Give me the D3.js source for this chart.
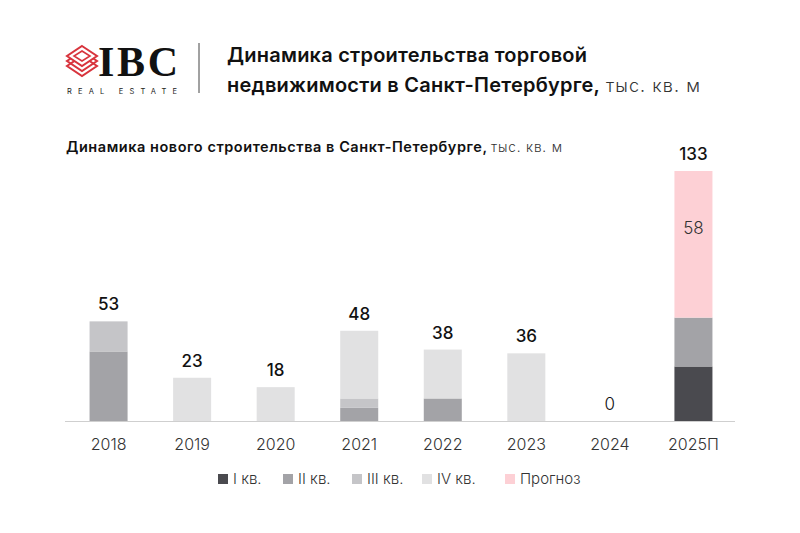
<!DOCTYPE html>
<html>
<head>
<meta charset="utf-8">
<script src="https://cdn.jsdelivr.net/npm/d3@7"></script>
<style>
  body { margin: 0; background: #fff; }
  svg { font-family: Inter, "Noto Sans", sans-serif; }
</style>
</head>
<body>
<div id="plot-container"></div>
<script>
// data
const years = ["2018", "2019", "2020", "2021", "2022", "2023", "2024", "2025П"];
const q1 = [0, 0, 0, 0, 0, 0, 0, 29];
const q2 = [37, 0, 0, 7, 12, 0, 0, 26];
const q3 = [16, 0, 0, 5, 0, 0, 0, 0];
const q4 = [0, 23, 18, 36, 26, 36, 0, 0];
const forecast = [0, 0, 0, 0, 0, 0, 0, 78];
const totals = [53, 23, 18, 48, 38, 36, 0, 133];
const forecastLabel = "58";
const seriesNames = ["I кв.", "II кв.", "III кв.", "IV кв.", "Прогноз"];
const seriesColors = ["#4a4a4f", "#a3a3a7", "#c5c5c8", "#e1e1e2", "#fdd0d5"];

const rows = years.map((y, i) => ({
    year: y, s0: q1[i], s1: q2[i], s2: q3[i], s3: q4[i], s4: forecast[i], total: totals[i]
}));
const keys = ["s0", "s1", "s2", "s3", "s4"];
const stacked = d3.stack().keys(keys)(rows);

const W = 800, H = 533;
const margin = { left: 67, right: 65, top: 171, bottom: 112 };
const baseY = H - margin.bottom;

const svg = d3.select("#plot-container")
    .append("svg")
    .attr("width", W)
    .attr("height", H);

// header: logo
const logo = svg.append("g").attr("transform", "translate(82,59)");
[10, 5, 0].forEach((dy, i) => {
    logo.append("path")
        .attr("d", `M0,${-13 + dy} L15,${-3 + dy} L0,${7 + dy} L-15,${-3 + dy} Z`)
        .attr("fill", i === 2 ? "#fff" : "none")
        .attr("stroke", "#d8343d")
        .attr("stroke-width", 2);
});
logo.append("path")
    .attr("d", "M0,-8 L8,-3 L0,2 L-8,-3 Z")
    .attr("fill", "none")
    .attr("stroke", "#d8343d")
    .attr("stroke-width", 1.6);

svg.append("text")
    .attr("x", 98).attr("y", 76)
    .attr("font-family", "'Liberation Serif', 'DejaVu Serif', serif")
    .attr("font-weight", "bold")
    .attr("font-size", 42)
    .attr("fill", "#111")
    .attr("textLength", 80)
    .text("IBC");

svg.append("text")
    .attr("x", 67).attr("y", 94)
    .attr("font-size", 7.5)
    .attr("fill", "#222")
    .attr("textLength", 110)
    .attr("lengthAdjust", "spacing")
    .text("REAL ESTATE");

svg.append("line")
    .attr("x1", 199).attr("x2", 199)
    .attr("y1", 43).attr("y2", 93)
    .attr("stroke", "#444").attr("stroke-width", 1);

const title = svg.append("text")
    .attr("font-size", 20).attr("font-weight", 600).attr("fill", "#111");
title.append("tspan").attr("x", 227).attr("y", 62)
    .attr("textLength", 360).text("Динамика строительства торговой");
title.append("tspan").attr("x", 227).attr("y", 92)
    .attr("textLength", 373).text("недвижимости в Санкт-Петербурге,");
title.append("tspan").attr("x", 606).attr("y", 92)
    .attr("font-weight", 300).attr("font-size", 18).attr("fill", "#333")
    .attr("textLength", 94).text("тыс. кв. м");

const sub = svg.append("text")
    .attr("y", 152).attr("font-size", 14.5).attr("font-weight", 600).attr("fill", "#111");
sub.append("tspan").attr("x", 66).attr("textLength", 421)
    .text("Динамика нового строительства в Санкт-Петербурге,");
sub.append("tspan").attr("x", 491).attr("font-weight", 300).attr("font-size", 13.5).attr("fill", "#333")
    .attr("textLength", 71).text("тыс. кв. м");

// scales
const x = d3.scaleBand()
    .domain(years)
    .range([margin.left, W - margin.right])
    .paddingInner(0.545)
    .paddingOuter(0.27);

const y = d3.scaleLinear()
    .domain([0, 133])
    .range([baseY, margin.top]);

// bars
svg.append("g")
    .selectAll("g")
    .data(stacked)
    .join("g")
    .attr("fill", (d, i) => seriesColors[i])
    .selectAll("rect")
    .data(d => d.filter(v => v[1] > v[0]))
    .join("rect")
    .attr("x", d => x(d.data.year))
    .attr("width", x.bandwidth())
    .attr("y", d => y(d[1]))
    .attr("height", d => y(d[0]) - y(d[1]));

// axis line + labels
const xAxis = svg.append("g")
    .attr("transform", `translate(0,${baseY})`)
    .call(d3.axisBottom(x).tickSize(0).tickPadding(18));
xAxis.select(".domain").attr("stroke", "#cfcfcf").attr("d", `M65,0.5H735`);
xAxis.selectAll("text")
    .attr("font-family", "Inter, 'Noto Sans', sans-serif")
    .attr("font-size", 16)
    .attr("font-weight", 300)
    .attr("fill", "#333");

// totals
svg.append("g")
    .selectAll("text")
    .data(rows)
    .join("text")
    .attr("x", d => x(d.year) + x.bandwidth() / 2)
    .attr("y", d => y(d.total) - 11)
    .attr("text-anchor", "middle")
    .attr("font-size", 17)
    .attr("font-weight", d => d.total === 0 ? 300 : 500)
    .attr("fill", "#111")
    .text(d => d.total);

// forecast segment label
const fc = stacked[4][7];
svg.append("text")
    .attr("x", x(years[7]) + x.bandwidth() / 2)
    .attr("y", (y(fc[0]) + y(fc[1])) / 2 - 10)
    .attr("text-anchor", "middle")
    .attr("font-size", 17)
    .attr("font-weight", 300)
    .attr("fill", "#333")
    .text(forecastLabel);

// legend
const legendX = [218, 283, 352, 422, 505];
const legend = svg.append("g")
    .selectAll("g")
    .data(seriesNames)
    .join("g")
    .attr("transform", (d, i) => `translate(${legendX[i]},474)`);
legend.append("rect")
    .attr("width", 10).attr("height", 10)
    .attr("fill", (d, i) => seriesColors[i]);
legend.append("text")
    .attr("x", 15).attr("y", 10)
    .attr("font-size", 15)
    .attr("font-weight", 300)
    .attr("fill", "#333")
    .text(d => d);
</script>
</body>
</html>
